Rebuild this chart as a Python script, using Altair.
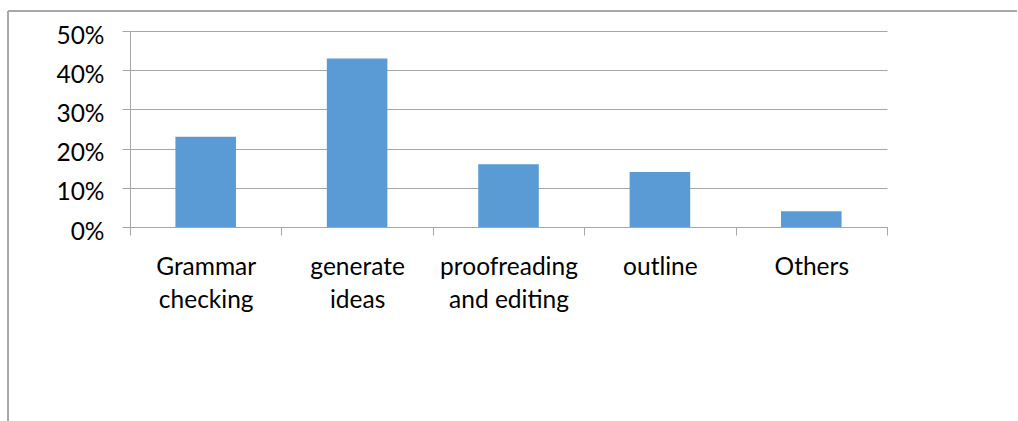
import altair as alt
import pandas as pd

# Survey answers: what the tool is used for, share of respondents
categories = ["Grammar|checking", "generate|ideas", "proofreading|and editing", "outline", "Others"]
shares = [0.23, 0.43, 0.16, 0.14, 0.04]
y_ticks = [0, 0.1, 0.2, 0.3, 0.4, 0.5]

df = pd.DataFrame({"use": categories, "share": shares})

FONT = "Lato"
GRID = "#a6a6a6"

PLOT_W, PLOT_H = 757, 196
PAD_L, PAD_T = 130, 31
PAD_R, PAD_B = 1018 - PAD_L - PLOT_W, 421 - PAD_T - PLOT_H

bars = alt.Chart(df).mark_bar(color="#5b9bd5", width=alt.RelativeBandSize(0.4)).encode(
    x=alt.X(
        "use:N",
        sort=categories,
        title=None,
        scale=alt.Scale(paddingInner=0, paddingOuter=0),
        axis=alt.Axis(
            labelAngle=0,
            labelExpr="split(datum.label, '|')",
            labelFont=FONT,
            labelFontSize=24.5,
            labelColor="#000000",
            labelLineHeight=33,
            labelBaseline="top",
            labelPadding=20,
            tickBand="extent",
            tickSize=8,
            tickColor=GRID,
            domainColor=GRID,
            grid=False,
        ),
    ),
    y=alt.Y(
        "share:Q",
        title=None,
        scale=alt.Scale(domain=[0, 0.5], nice=False),
        axis=alt.Axis(
            values=y_ticks,
            format=".0%",
            labelFont=FONT,
            labelFontSize=24.5,
            labelColor="#000000",
            labelPadding=18,
            labelOffset=5,
            tickSize=8,
            tickColor=GRID,
            domainColor=GRID,
            gridColor=GRID,
            gridOpacity=1,
        ),
    ),
)

# Frame lines along the top and left edge of the chart area
frame_top = alt.Chart(df).mark_rule(color=GRID, strokeWidth=1).encode(
    x=alt.value(-PAD_L + 8), x2=alt.value(PLOT_W + PAD_R - 1), y=alt.value(-PAD_T + 11)
)
frame_left = alt.Chart(df).mark_rule(color=GRID, strokeWidth=1).encode(
    x=alt.value(-PAD_L + 8), y=alt.value(-PAD_T + 11), y2=alt.value(PLOT_H + PAD_B)
)

chart = (
    alt.layer(bars, frame_top, frame_left)
    .properties(
        width=PLOT_W,
        height=PLOT_H,
        autosize=alt.AutoSizeParams(type="none"),
        padding={"left": PAD_L, "top": PAD_T, "right": PAD_R, "bottom": PAD_B},
        background="#ffffff",
    )
    .configure_view(stroke=None)
)

chart.save("out.html", embed_options={"renderer": "svg", "actions": False})
